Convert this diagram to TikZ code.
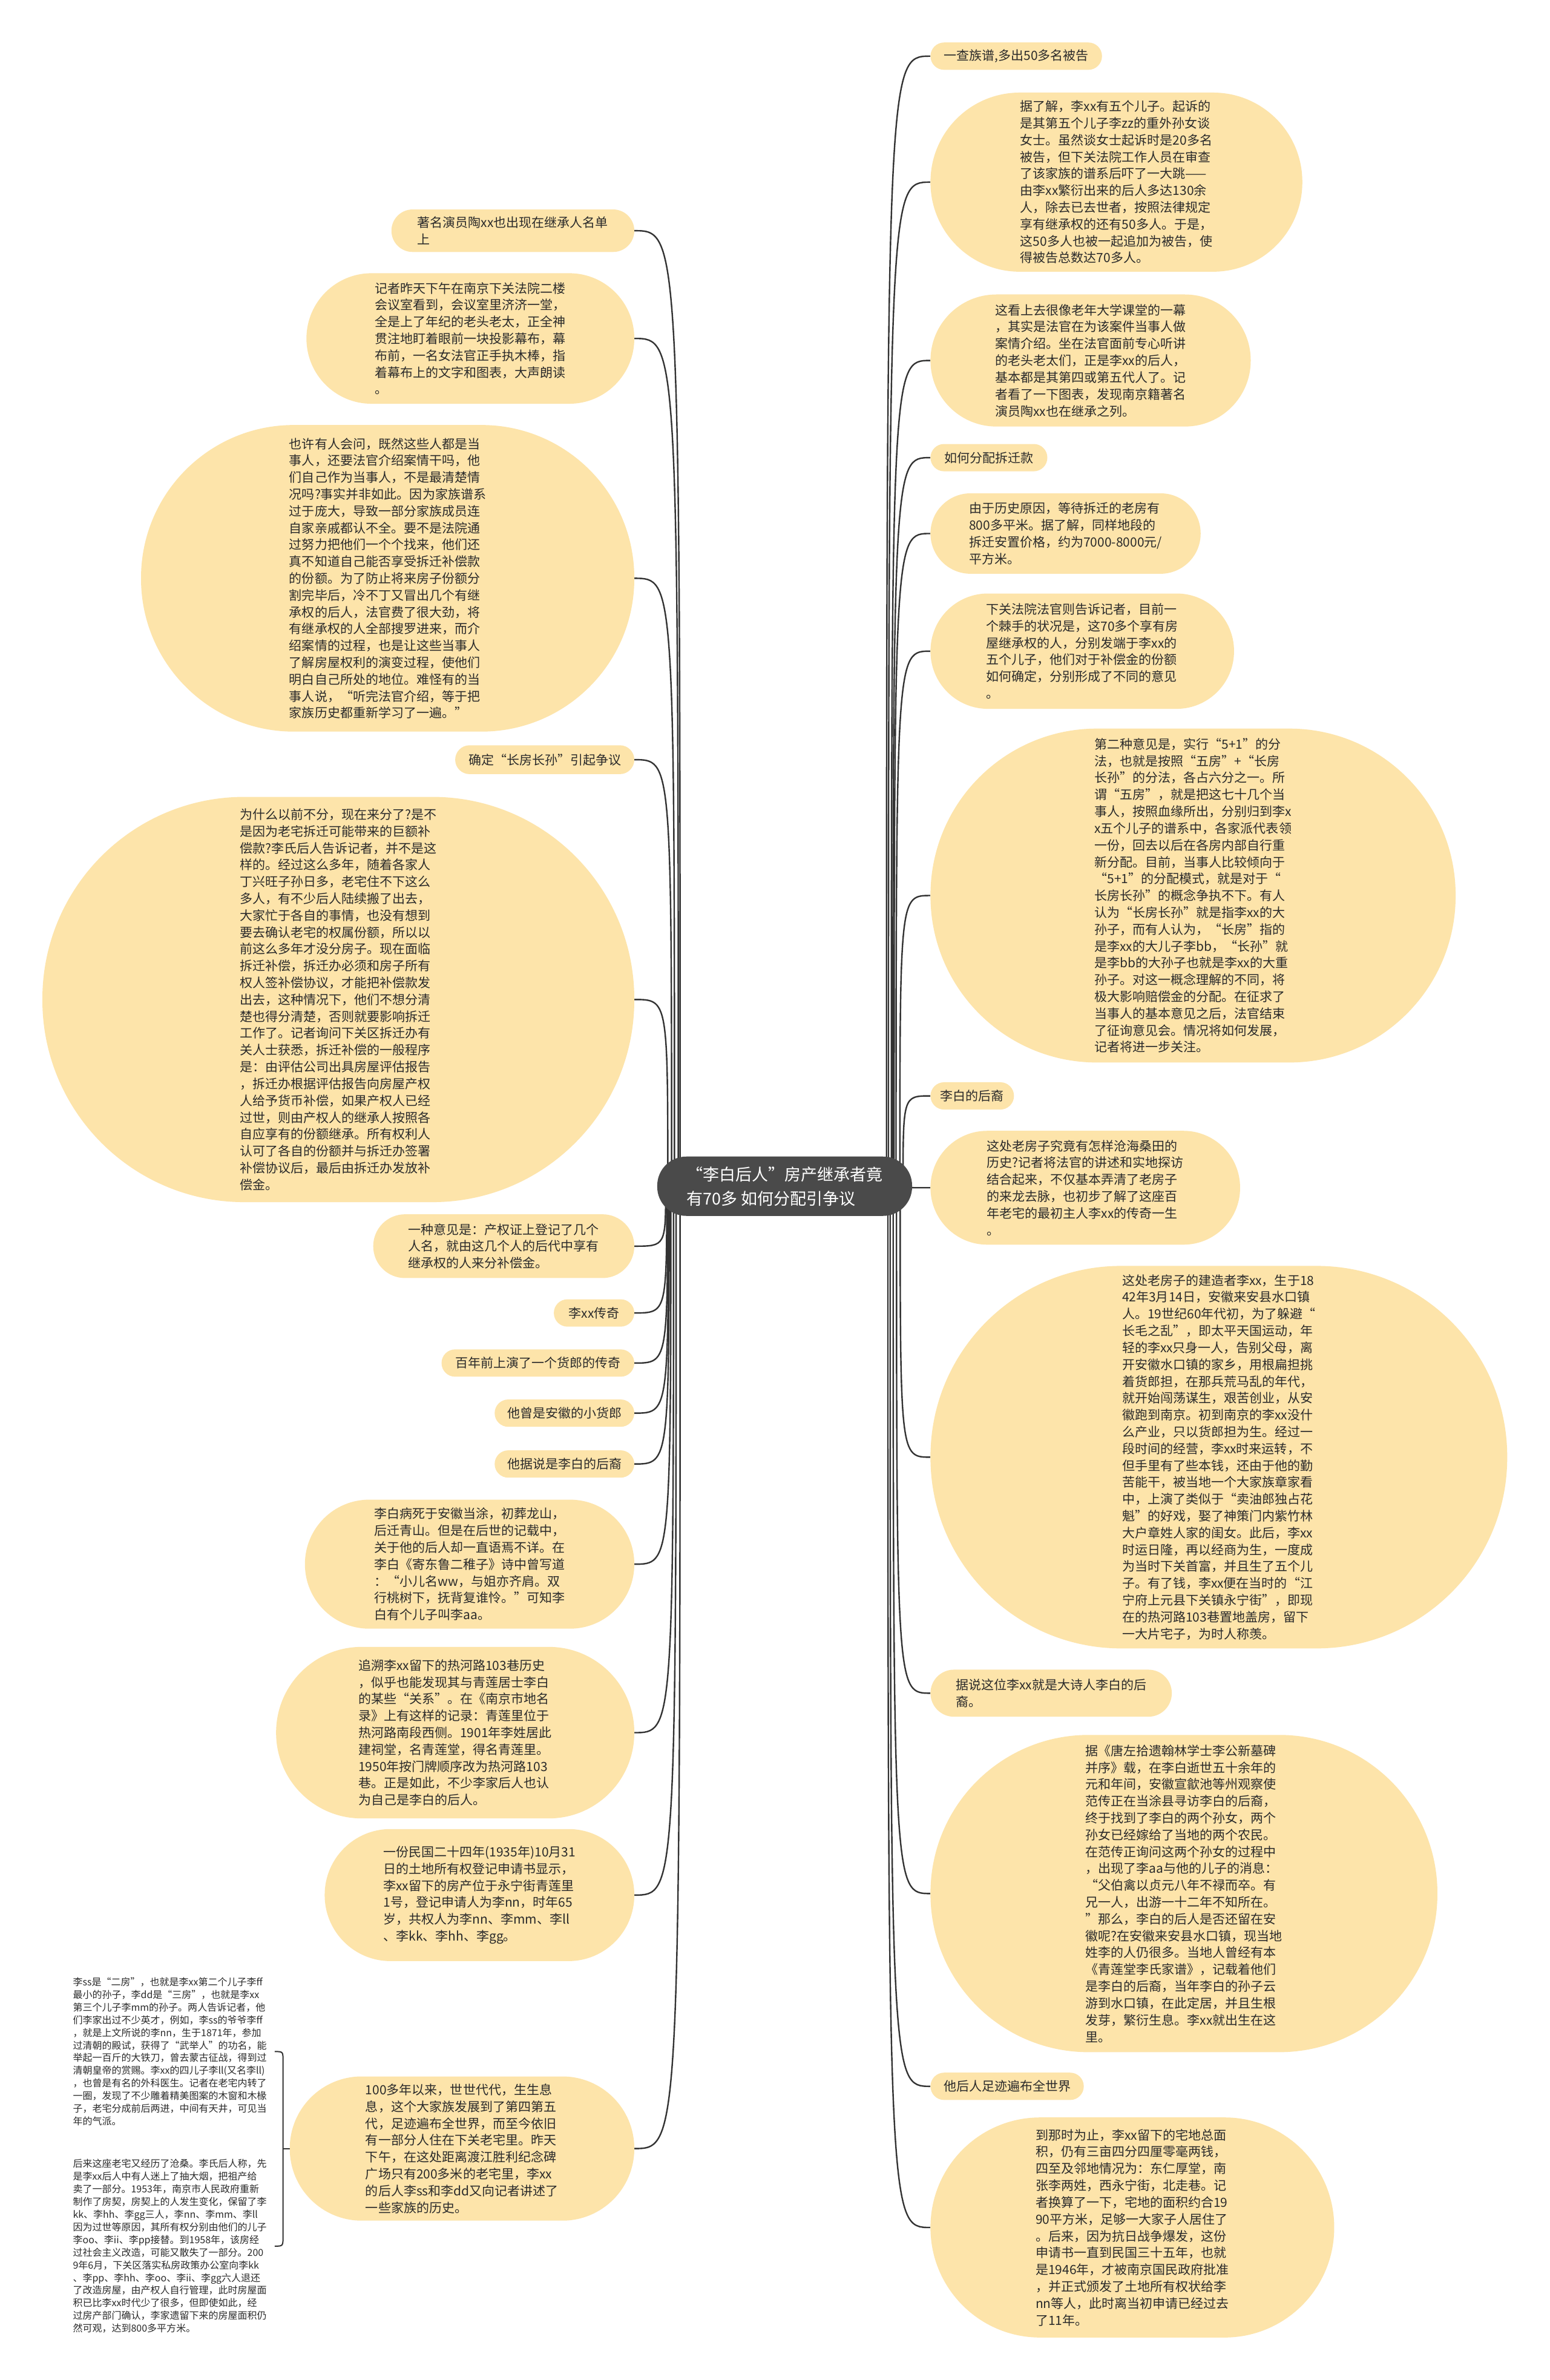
\documentclass[tikz,border=0pt]{standalone}
\usepackage{fontspec}
\setmainfont{Noto Sans CJK SC}
\usetikzlibrary{calc}
\definecolor{bubfill}{HTML}{FDE4AA}
\definecolor{rootfill}{HTML}{4A4A4A}
\definecolor{txt}{HTML}{2A2A2A}
\definecolor{lnc}{HTML}{333333}
\pgfdeclarelayer{bg}
\pgfsetlayers{bg,main}
\begin{document}
\begin{tikzpicture}[x=2.507pt,y=-2.507pt,
  bub/.style 2 args={rectangle, fill=bubfill, inner sep=0pt, align=left, text=txt,
    font=\fontsize{21pt}{27.8pt}\selectfont,
    minimum width={(#1)*2.507pt}, minimum height={(#2)*2.507pt},
    rounded corners={(#2)*1.25pt}},
  rnode/.style 2 args={bub={#1}{#2}, anchor=west},
  lnode/.style 2 args={bub={#1}{#2}, anchor=east},
  conn/.style={draw=lnc, line width=2.4pt},
  bracepath/.style={draw=lnc, line width=2pt},
  note/.style={inner sep=0pt, align=left, text=txt, font=\fontsize{16pt}{20.9pt}\selectfont, anchor=west},
]
\useasboundingbox (0,0) rectangle (1021,1568);

% root
\node[rectangle, rounded corners=48pt, fill=rootfill, text=white, align=left, inner sep=0pt,
  font=\fontsize{27pt}{40pt}\selectfont, minimum width=421pt, minimum height=98pt]
  (root) at (517,781.5) {“李白后人”房产继承者竟\\有70多 如何分配引争议};

% right side
\node[rnode={113}{18}] (r1) at (613,37) {一查族谱,多出50多名被告};
\node[rnode={245}{118}] (r2) at (613,120) {据了解，李xx有五个儿子。起诉的\\是其第五个儿子李zz的重外孙女谈\\女士。虽然谈女士起诉时是20多名\\被告，但下关法院工作人员在审查\\了该家族的谱系后吓了一大跳——\\由李xx繁衍出来的后人多达130余\\人，除去已去世者，按照法律规定\\享有继承权的还有50多人。于是，\\这50多人也被一起追加为被告，使\\得被告总数达70多人。};
\node[rnode={211}{87}] (r3) at (613,237.5) {这看上去很像老年大学课堂的一幕\\，其实是法官在为该案件当事人做\\案情介绍。坐在法官面前专心听讲\\的老头老太们，正是李xx的后人，\\基本都是其第四或第五代人了。记\\者看了一下图表，发现南京籍著名\\演员陶xx也在继承之列。};
\node[rnode={77}{18}] (r4) at (613,301.5) {如何分配拆迁款};
\node[rnode={178}{53}] (r5) at (613,351.5) {由于历史原因，等待拆迁的老房有\\800多平米。据了解，同样地段的\\拆迁安置价格，约为7000-8000元/\\平方米。};
\node[rnode={200}{76}] (r6) at (613,429) {下关法院法官则告诉记者，目前一\\个棘手的状况是，这70多个享有房\\屋继承权的人，分别发端于李xx的\\五个儿子，他们对于补偿金的份额\\如何确定，分别形成了不同的意见\\。};
\node[rnode={346}{220}] (r7) at (613,590) {第二种意见是，实行“5+1”的分\\法，也就是按照“五房”+“长房\\长孙”的分法，各占六分之一。所\\谓“五房”，就是把这七十几个当\\事人，按照血缘所出，分别归到李x\\x五个儿子的谱系中，各家派代表领\\一份，回去以后在各房内部自行重\\新分配。目前，当事人比较倾向于\\“5+1”的分配模式，就是对于“\\长房长孙”的概念争执不下。有人\\认为“长房长孙”就是指李xx的大\\孙子，而有人认为，“长房”指的\\是李xx的大儿子李bb，“长孙”就\\是李bb的大孙子也就是李xx的大重\\孙子。对这一概念理解的不同，将\\极大影响赔偿金的分配。在征求了\\当事人的基本意见之后，法官结束\\了征询意见会。情况将如何发展，\\记者将进一步关注。};
\node[rnode={55}{18}] (r8) at (613,722) {李白的后裔};
\node[rnode={204}{75}] (r9) at (613,782.5) {这处老房子究竟有怎样沧海桑田的\\历史?记者将法官的讲述和实地探访\\结合起来，不仅基本弄清了老房子\\的来龙去脉，也初步了解了这座百\\年老宅的最初主人李xx的传奇一生\\。};
\node[rnode={380}{252}] (r10) at (613,960) {这处老房子的建造者李xx，生于18\\42年3月14日，安徽来安县水口镇\\人。19世纪60年代初，为了躲避“\\长毛之乱”，即太平天国运动，年\\轻的李xx只身一人，告别父母，离\\开安徽水口镇的家乡，用根扁担挑\\着货郎担，在那兵荒马乱的年代，\\就开始闯荡谋生，艰苦创业，从安\\徽跑到南京。初到南京的李xx没什\\么产业，只以货郎担为生。经过一\\段时间的经营，李xx时来运转，不\\但手里有了些本钱，还由于他的勤\\苦能干，被当地一个大家族章家看\\中，上演了类似于“卖油郎独占花\\魁”的好戏，娶了神策门内紫竹林\\大户章姓人家的闺女。此后，李xx\\时运日隆，再以经商为生，一度成\\为当时下关首富，并且生了五个儿\\子。有了钱，李xx便在当时的“江\\宁府上元县下关镇永宁街”，即现\\在的热河路103巷置地盖房，留下\\一大片宅子，为时人称羡。};
\node[rnode={159}{31}] (r11) at (613,1115.5) {据说这位李xx就是大诗人李白的后\\裔。};
\node[rnode={334}{209}] (r12) at (613,1247.5) {据《唐左拾遗翰林学士李公新墓碑\\并序》载，在李白逝世五十余年的\\元和年间，安徽宣歙池等州观察使\\范传正在当涂县寻访李白的后裔，\\终于找到了李白的两个孙女，两个\\孙女已经嫁给了当地的两个农民。\\在范传正询问这两个孙女的过程中\\，出现了李aa与他的儿子的消息：\\“父伯禽以贞元八年不禄而卒。有\\兄一人，出游一十二年不知所在。\\”那么，李白的后人是否还留在安\\徽呢?在安徽来安县水口镇，现当地\\姓李的人仍很多。当地人曾经有本\\《青莲堂李氏家谱》，记载着他们\\是李白的后裔，当年李白的孙子云\\游到水口镇，在此定居，并且生根\\发芽，繁衍生息。李xx就出生在这\\里。};
\node[rnode={101}{18}] (r13) at (613,1374.5) {他后人足迹遍布全世界};
\node[rnode={266}{145}] (r14) at (613,1467.5) {到那时为止，李xx留下的宅地总面\\积，仍有三亩四分四厘零毫两钱，\\四至及邻地情况为：东仁厚堂，南\\张李两姓，西永宁街，北走巷。记\\者换算了一下，宅地的面积约合19\\90平方米，足够一大家子人居住了\\。后来，因为抗日战争爆发，这份\\申请书一直到民国三十五年，也就\\是1946年，才被南京国民政府批准\\，并正式颁发了土地所有权状给李\\nn等人，此时离当初申请已经过去\\了11年。};

% left side
\node[lnode={160}{28}] (l1) at (418,152) {著名演员陶xx也出现在继承人名单\\上};
\node[lnode={216}{86}] (l2) at (418,223) {记者昨天下午在南京下关法院二楼\\会议室看到，会议室里济济一堂，\\全是上了年纪的老头老太，正全神\\贯注地盯着眼前一块投影幕布，幕\\布前，一名女法官正手执木棒，指\\着幕布上的文字和图表，大声朗读\\。};
\node[lnode={325}{202}] (l3) at (418,381) {也许有人会问，既然这些人都是当\\事人，还要法官介绍案情干吗，他\\们自己作为当事人，不是最清楚情\\况吗?事实并非如此。因为家族谱系\\过于庞大，导致一部分家族成员连\\自家亲戚都认不全。要不是法院通\\过努力把他们一个个找来，他们还\\真不知道自己能否享受拆迁补偿款\\的份额。为了防止将来房子份额分\\割完毕后，冷不丁又冒出几个有继\\承权的后人，法官费了很大劲，将\\有继承权的人全部搜罗进来，而介\\绍案情的过程，也是让这些当事人\\了解房屋权利的演变过程，使他们\\明白自己所处的地位。难怪有的当\\事人说，“听完法官介绍，等于把\\家族历史都重新学习了一遍。”};
\node[lnode={118}{19}] (l4) at (418,500.5) {确定“长房长孙”引起争议};
\node[lnode={390}{267}] (l5) at (418,658.5) {为什么以前不分，现在来分了?是不\\是因为老宅拆迁可能带来的巨额补\\偿款?李氏后人告诉记者，并不是这\\样的。经过这么多年，随着各家人\\丁兴旺子孙日多，老宅住不下这么\\多人，有不少后人陆续搬了出去，\\大家忙于各自的事情，也没有想到\\要去确认老宅的权属份额，所以以\\前这么多年才没分房子。现在面临\\拆迁补偿，拆迁办必须和房子所有\\权人签补偿协议，才能把补偿款发\\出去，这种情况下，他们不想分清\\楚也得分清楚，否则就要影响拆迁\\工作了。记者询问下关区拆迁办有\\关人士获悉，拆迁补偿的一般程序\\是：由评估公司出具房屋评估报告\\，拆迁办根据评估报告向房屋产权\\人给予货币补偿，如果产权人已经\\过世，则由产权人的继承人按照各\\自应享有的份额继承。所有权利人\\认可了各自的份额并与拆迁办签署\\补偿协议后，最后由拆迁办发放补\\偿金。};
\node[lnode={172}{42}] (l6) at (418,821) {一种意见是：产权证上登记了几个\\人名，就由这几个人的后代中享有\\继承权的人来分补偿金。};
\node[lnode={53}{18}] (l7) at (418,865) {李xx传奇};
\node[lnode={127}{18}] (l8) at (418,898) {百年前上演了一个货郎的传奇};
\node[lnode={92}{18}] (l9) at (418,931) {他曾是安徽的小货郎};
\node[lnode={92}{18}] (l10) at (418,964.5) {他据说是李白的后裔};
\node[lnode={217}{85}] (l11) at (418,1030.5) {李白病死于安徽当涂，初葬龙山，\\后迁青山。但是在后世的记载中，\\关于他的后人却一直语焉不详。在\\李白《寄东鲁二稚子》诗中曾写道\\：“小儿名ww，与姐亦齐肩。双\\行桃树下，抚背复谁怜。”可知李\\白有个儿子叫李aa。};
\node[lnode={236}{113}] (l12) at (418,1141.5) {追溯李xx留下的热河路103巷历史\\，似乎也能发现其与青莲居士李白\\的某些“关系”。在《南京市地名\\录》上有这样的记录：青莲里位于\\热河路南段西侧。1901年李姓居此\\建祠堂，名青莲堂，得名青莲里。\\1950年按门牌顺序改为热河路103\\巷。正是如此，不少李家后人也认\\为自己是李白的后人。};
\node[lnode={204}{87}] (l13) at (418,1248.5) {一份民国二十四年(1935年)10月31\\日的土地所有权登记申请书显示，\\李xx留下的房产位于永宁街青莲里\\1号，登记申请人为李nn，时年65\\岁，共权人为李nn、李mm、李ll\\、李kk、李hh、李gg。};
\node[lnode={227}{95}] (l14) at (418,1415.5) {100多年以来，世世代代，生生息\\息，这个大家族发展到了第四第五\\代，足迹遍布全世界，而至今依旧\\有一部分人住在下关老宅里。昨天\\下午，在这处距离渡江胜利纪念碑\\广场只有200多米的老宅里，李xx\\的后人李ss和李dd又向记者讲述了\\一些家族的历史。};

% notes
\node[note] (t1) at (48,1351.6) {李ss是“二房”，也就是李xx第二个儿子李ff\\最小的孙子，李dd是“三房”，也就是李xx\\第三个儿子李mm的孙子。两人告诉记者，他\\们李家出过不少英才，例如，李ss的爷爷李ff\\，就是上文所说的李nn，生于1871年，参加\\过清朝的殿试，获得了“武举人”的功名，能\\举起一百斤的大铁刀，曾去蒙古征战，得到过\\清朝皇帝的赏赐。李xx的四儿子李ll(又名李ll)\\，也曾是有名的外科医生。记者在老宅内转了\\一圈，发现了不少雕着精美图案的木窗和木椽\\子，老宅分成前后两进，中间有天井，可见当\\年的气派。};
\node[note] (t2) at (48,1479.8) {后来这座老宅又经历了沧桑。李氏后人称，先\\是李xx后人中有人迷上了抽大烟，把祖产给\\卖了一部分。1953年，南京市人民政府重新\\制作了房契，房契上的人发生变化，保留了李\\kk、李hh、李gg三人，李nn、李mm、李ll\\因为过世等原因，其所有权分别由他们的儿子\\李oo、李ii、李pp接替。到1958年，该房经\\过社会主义改造，可能又散失了一部分。200\\9年6月，下关区落实私房政策办公室向李kk\\、李pp、李hh、李oo、李ii、李gg六人退还\\了改造房屋，由产权人自行管理，此时房屋面\\积已比李xx时代少了很多，但即使如此，经\\过房产部门确认，李家遗留下来的房屋面积仍\\然可观，达到800多平方米。};

\begin{pgfonlayer}{bg}
\fill[white] (0,0) rectangle (1021,1568);
\foreach \n/\v in {r1/584.1,r2/585.4,r3/587.3,r4/588.3,r5/589.1,r6/590.4,r7/592.9,r8/595,
                   r9/596,r10/593.1,r11/590.7,r12/588.5,r13/586.5,r14/585}
  {\coordinate (s) at ($(root.center)+(\v-517,0)$);
   \draw[conn] (s) .. controls (s |- \n.west) and (s |- \n.west) .. (\n.west);}
\foreach \n/\v in {l1/448.1,l2/446.9,l3/444.4,l4/442.5,l5/440,l6/438.6,l7/439.3,l8/439.9,
                   l9/440.4,l10/440.9,l11/442,l12/443.8,l13/445.5,l14/448.1}
  {\coordinate (s) at ($(root.center)+(\v-517,0)$);
   \draw[conn] (s) .. controls (s |- \n.east) and (s |- \n.east) .. (\n.east);}
% brace joining the two notes to l14
\coordinate (bt) at (181,1351.6);
\coordinate (bb) at (181,1479.8);
\coordinate (bm) at (186.5,1415.5);
\draw[bracepath] (bt) .. controls (186.5,1351.6) .. (186.5,1358) -- (186.5,1473) .. controls (186.5,1479.8) .. (bb);
\draw[bracepath] (bm) -- (l14.west);
\end{pgfonlayer}
\end{tikzpicture}
\end{document}
